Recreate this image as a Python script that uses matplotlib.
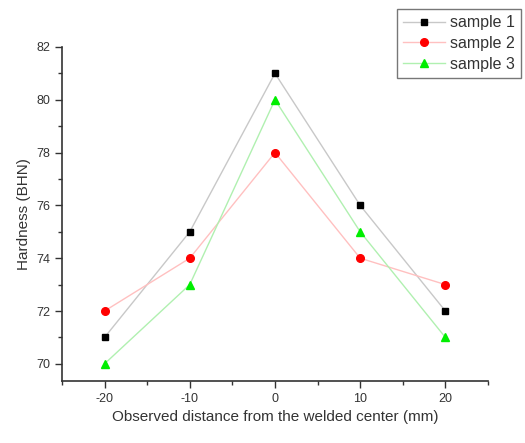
import matplotlib
matplotlib.use("Agg")
import matplotlib.pyplot as plt
from matplotlib.ticker import MultipleLocator

plt.rcParams['font.family'] = ['Liberation Sans', 'DejaVu Sans']
plt.rcParams['axes.unicode_minus'] = False

x = [-20, -10, 0, 10, 20]
sample1 = [71, 75, 81, 76, 72]
sample2 = [72, 74, 78, 74, 73]
sample3 = [70, 73, 80, 75, 71]
labels = ["sample 1", "sample 2", "sample 3"]

fig = plt.figure(figsize=(5.25, 4.43), dpi=100)
ax = fig.add_axes([0.118, 0.140, 0.8115, 0.754])

ax.plot(x, sample1, color="#c8c8c8", lw=1, marker="s", ms=4.5, mfc="black", mec="black", label=labels[0])
ax.plot(x, sample2, color="#ffc0c0", lw=1, marker="o", ms=5.5, mfc="red", mec="red", label=labels[1])
ax.plot(x, sample3, color="#b0f0b0", lw=1, marker="^", ms=5.5, mfc="#00ee00", mec="#00ee00", label=labels[2])

ax.set_xlim(-25, 25)
ax.set_ylim(69.35, 82)
ax.xaxis.set_major_locator(MultipleLocator(10))
ax.xaxis.set_minor_locator(MultipleLocator(5))
ax.yaxis.set_major_locator(MultipleLocator(2))
ax.yaxis.set_minor_locator(MultipleLocator(1))
for s in ["top", "right"]:
    ax.spines[s].set_visible(False)
for s in ["left", "bottom"]:
    ax.spines[s].set_color("#333333")
    ax.spines[s].set_linewidth(1.2)
ax.tick_params(which="major", direction="out", length=5, width=1, colors="#333333", labelsize=9, labelcolor="#333333")
ax.tick_params(which="minor", direction="out", length=3, width=1, colors="#333333")
ax.set_xlabel("Observed distance from the welded center (mm)", fontsize=11, color="#333333")
ax.set_ylabel("Hardness (BHN)", fontsize=11, color="#333333")

leg = fig.legend(loc="upper left", bbox_to_anchor=(397/525, 1 - 9/443), fontsize=11.5,
                 frameon=True, fancybox=False, edgecolor="#555555", handlelength=2.6,
                 borderpad=0.4, labelspacing=0.35, handletextpad=0.3, borderaxespad=0)
leg.get_frame().set_linewidth(1)
for t in leg.get_texts():
    t.set_color("#333333")

fig.savefig("out.png", dpi=100)
